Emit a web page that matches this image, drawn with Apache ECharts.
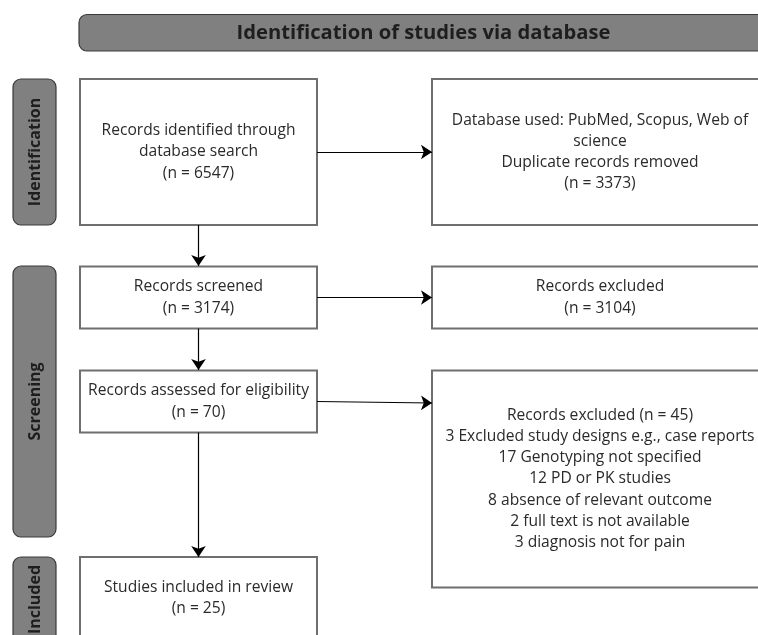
<!DOCTYPE html>
<html><head><meta charset="utf-8">
<script src="https://cdn.jsdelivr.net/npm/echarts@6/dist/echarts.min.js"></script>
<style>html,body{margin:0;padding:0;background:#fff}#c{width:758px;height:635px}</style>
</head><body><div id="c"></div>
<script>
// ---- data ----
const headerTitle = 'Identification of studies via database';
const stageLabels = ['Identification', 'Screening', 'Included'];
const boxLabels = [
  'Records identified through\ndatabase search',
  'Database used: PubMed, Scopus, Web of\nscience\nDuplicate records removed',
  'Records screened',
  'Records excluded',
  'Records assessed for eligibility',
  'Records excluded',
  'Studies included in review'
];
const boxCounts = [6547, 3373, 3174, 3104, 70, 45, 25];
const exclusionReasons = [
  'Excluded study designs e.g., case reports',
  'Genotyping not specified',
  'PD or PK studies',
  'absence of relevant outcome',
  'full text is not available',
  'diagnosis not for pain'
];
const exclusionCounts = [3, 17, 12, 8, 2, 3];
// flows: [from box, to box]
const flows = [[0, 1], [0, 2], [2, 3], [2, 4], [4, 5], [4, 6]];

// ---- layout (pixels) ----
const W = 758, H = 635;
const headerRect = [79, 14.5, 689, 36.5];
const stageRects = [[13, 79, 43, 146], [13, 266, 43, 271], [13, 557, 43, 90]];
const stageTextCenters = [152, 401.5, 599.5];
const boxRects = [
  [80, 79, 237, 146],
  [432, 79, 336, 146],
  [80, 266.5, 237, 62],
  [432, 266.5, 336, 62],
  [80, 370.5, 237, 62],
  [432, 370.5, 336, 217],
  [80, 557, 237, 82]
];
const flowCoords = [
  [[317, 152], [432, 152]],
  [[198.5, 225], [198.5, 266]],
  [[317, 297.5], [432, 297.5]],
  [[198.5, 328.5], [198.5, 370]],
  [[317, 401.5], [432, 403]],
  [[198.5, 432.5], [198.5, 557]]
];

function boxText(i) {
  if (i === 5) {
    const lines = ['Records excluded (n = ' + boxCounts[i] + ')'];
    exclusionReasons.forEach((r, k) => lines.push(exclusionCounts[k] + ' ' + r));
    return lines.join('\n');
  }
  return boxLabels[i] + '\n(n = ' + boxCounts[i] + ')';
}

const FONT = '"Open Sans", "Noto Sans", sans-serif';
const chart = echarts.init(document.getElementById('c'), null, {renderer: 'canvas'});

function rectShape(api, r) {
  const p = api.coord([r[0], r[1]]);
  const s = api.size([r[2], r[3]]);
  return {x: p[0], y: p[1], width: s[0], height: s[1]};
}

chart.setOption({
  animation: false,
  grid: {left: 0, right: 0, top: 0, bottom: 0},
  xAxis: {type: 'value', min: 0, max: W, show: false},
  yAxis: {type: 'value', min: 0, max: H, inverse: true, show: false},
  series: [
    {
      type: 'custom', name: 'header', clip: false, z: 2,
      data: [[0]],
      renderItem: function (params, api) {
        const sh = rectShape(api, headerRect);
        return {type: 'group', children: [
          {type: 'rect', shape: Object.assign({r: 8}, sh), style: {fill: '#808080', stroke: '#3a3a3a', lineWidth: 1.2}},
          {type: 'text', x: sh.x + sh.width / 2, y: sh.y + sh.height / 2 + 0.5,
            style: {text: headerTitle, fill: '#1e1e1e', font: 'bold 20.2px ' + FONT, align: 'center', verticalAlign: 'middle'}}
        ]};
      }
    },
    {
      type: 'custom', name: 'stages', clip: false, z: 2,
      data: stageLabels.map((s, i) => [i]),
      renderItem: function (params, api) {
        const i = api.value(0);
        const sh = rectShape(api, stageRects[i]);
        const cy = api.coord([0, stageTextCenters[i]])[1];
        return {type: 'group', children: [
          {type: 'rect', shape: Object.assign({r: 8}, sh), style: {fill: '#808080', stroke: '#3a3a3a', lineWidth: 1.2}},
          {type: 'text', x: sh.x + sh.width / 2 + 0.5, y: cy, rotation: Math.PI / 2,
            style: {text: stageLabels[i], fill: '#1e1e1e', font: 'bold 16px ' + FONT, align: 'center', verticalAlign: 'middle'}}
        ]};
      }
    },
    {
      type: 'custom', name: 'boxes', clip: false, z: 2,
      data: boxLabels.map((s, i) => [i]),
      renderItem: function (params, api) {
        const i = api.value(0);
        const sh = rectShape(api, boxRects[i]);
        return {type: 'group', children: [
          {type: 'rect', shape: sh, style: {fill: '#ffffff', stroke: '#6f6f6f', lineWidth: 2}},
          {type: 'text', x: sh.x + sh.width / 2, y: sh.y + sh.height / 2,
            style: {text: boxText(i), fill: '#2a2a2a', font: '15.6px ' + FONT, lineHeight: 21.3, align: 'center', verticalAlign: 'middle'}}
        ]};
      }
    },
    {
      type: 'lines', name: 'flows', coordinateSystem: 'cartesian2d', z: 3,
      symbol: ['none', 'arrow'], symbolSize: [8, 11],
      lineStyle: {color: '#000', width: 1.2, opacity: 1, curveness: 0},
      data: flows.map((f, k) => ({name: f.join('-'), coords: flowCoords[k]}))
    }
  ]
});
</script></body></html>
